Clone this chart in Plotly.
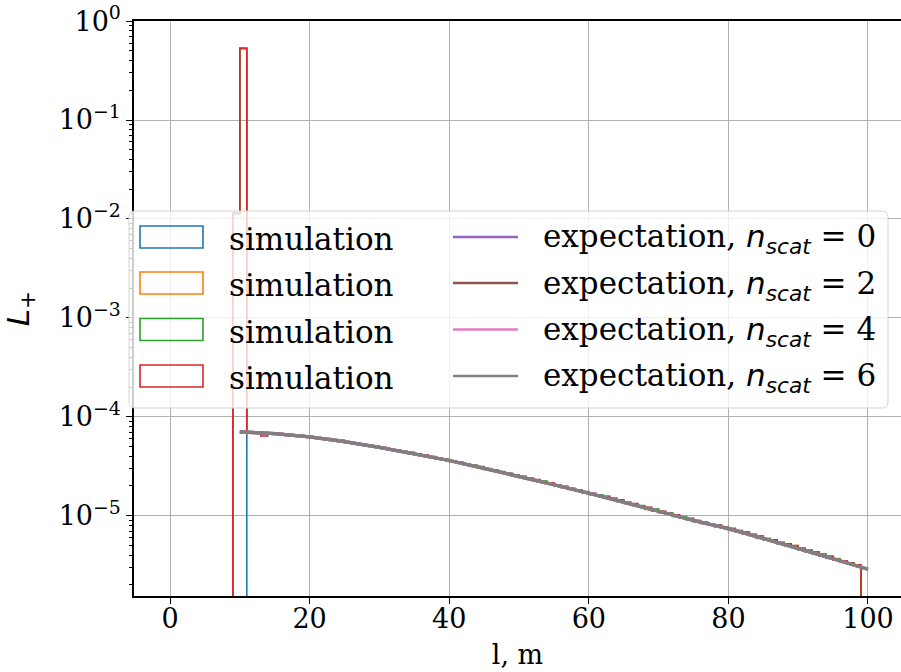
import numpy as np
import plotly.graph_objects as go

# ---------------- data (values in units of 1e-5 unless noted) ----------------
SCALE = 1e-5
BIN_W = 1.0
FIRST_BIN_BLUE = 11      # first non-empty bin edge (m)
FIRST_BIN_SPIKE = 9      # first non-empty bin edge for n_scat>0 (m)
SPIKE_BINS = [1.14e-2, 0.53]   # absolute values of bins [9,10] and [10,11]

sim_blue = [6.98, 7.02, 6.85, 6.86, 6.70, 6.69, 6.52, 6.50, 6.33, 6.27,
            6.08, 6.01, 5.82, 5.75, 5.52, 5.44, 5.24, 5.16, 4.96, 4.88,
            4.70, 4.61, 4.42, 4.35, 4.16, 4.09, 3.90, 3.83, 3.66, 3.58,
            3.42, 3.34, 3.19, 3.12, 2.94, 2.88, 2.74, 2.68, 2.54, 2.49,
            2.36, 2.31, 2.18, 2.14, 2.00, 1.97, 1.85, 1.82, 1.71, 1.68,
            1.58, 1.56, 1.46, 1.44, 1.33, 1.32, 1.22, 1.21, 1.12, 1.10,
            1.04, 1.01, 0.95, 0.93, 0.87, 0.86, 0.81, 0.80, 0.75, 0.74,
            0.69, 0.68, 0.63, 0.62, 0.57, 0.57, 0.52, 0.52, 0.48, 0.47,
            0.43, 0.43, 0.39, 0.39, 0.355, 0.35, 0.325, 0.32]

sim_orange = [6.80, 6.90, 6.93, 6.78, 6.76, 6.60, 6.58, 6.44, 6.40, 6.20,
              6.14, 5.94, 5.88, 5.68, 5.58, 5.37, 5.30, 5.10, 5.02, 4.82,
              4.75, 4.55, 4.48, 4.29, 4.22, 4.03, 3.96, 3.77, 3.71, 3.53,
              3.47, 3.29, 3.24, 3.07, 2.99, 2.83, 2.79, 2.63, 2.59, 2.44,
              2.41, 2.26, 2.23, 2.09, 2.05, 1.92, 1.89, 1.77, 1.75, 1.63,
              1.62, 1.51, 1.50, 1.39, 1.37, 1.27, 1.26, 1.16, 1.16, 1.07,
              1.06, 0.98, 0.97, 0.90, 0.89, 0.83, 0.83, 0.77, 0.77, 0.71,
              0.71, 0.65, 0.65, 0.59, 0.59, 0.55, 0.54, 0.50, 0.50, 0.45,
              0.45, 0.41, 0.41, 0.37, 0.37, 0.34, 0.335, 0.31]

sim_green = [7.05, 6.92, 6.94, 6.80, 6.78, 6.62, 6.60, 6.45, 6.41, 6.22,
             6.15, 5.95, 5.90, 5.70, 5.59, 5.39, 5.31, 5.11, 5.03, 4.83,
             4.76, 4.56, 4.49, 4.30, 4.23, 4.04, 3.97, 3.78, 3.72, 3.54,
             3.48, 3.30, 3.25, 3.08, 3.00, 2.84, 2.80, 2.64, 2.60, 2.45,
             2.42, 2.27, 2.24, 2.10, 2.06, 1.93, 1.90, 1.78, 1.76, 1.64,
             1.63, 1.52, 1.51, 1.40, 1.38, 1.28, 1.27, 1.17, 1.17, 1.08,
             1.07, 0.99, 0.98, 0.91, 0.90, 0.84, 0.83, 0.78, 0.77, 0.72,
             0.71, 0.66, 0.65, 0.60, 0.59, 0.555, 0.54, 0.505, 0.50, 0.455,
             0.45, 0.415, 0.41, 0.375, 0.365, 0.34, 0.335, 0.31]

sim_red = [6.96, 6.93, 6.40, 6.84, 6.72, 6.68, 6.55, 6.49, 6.36, 6.30,
           6.10, 6.03, 5.84, 5.78, 5.54, 5.46, 5.26, 5.19, 4.98, 4.90,
           4.71, 4.63, 4.44, 4.37, 4.18, 4.11, 3.92, 3.85, 3.67, 3.60,
           3.43, 3.36, 3.20, 3.14, 2.95, 2.89, 2.75, 2.69, 2.55, 2.50,
           2.37, 2.32, 2.19, 2.15, 2.01, 1.98, 1.86, 1.83, 1.72, 1.69,
           1.59, 1.57, 1.47, 1.45, 1.34, 1.33, 1.23, 1.22, 1.13, 1.11,
           1.05, 1.02, 0.955, 0.94, 0.875, 0.865, 0.815, 0.805, 0.755, 0.745,
           0.695, 0.685, 0.635, 0.625, 0.575, 0.57, 0.525, 0.52, 0.485, 0.47,
           0.435, 0.43, 0.395, 0.39, 0.36, 0.35, 0.33, 0.32]

exp_l = [10, 15, 20, 25, 30, 35, 40, 45, 50, 55, 60, 65, 70, 75, 80, 85, 90, 95, 100]
exp_val = [7.06, 6.76, 6.28, 5.62, 4.92, 4.25, 3.62, 3.01, 2.51, 2.06,
           1.69, 1.38, 1.11, 0.895, 0.741, 0.589, 0.468, 0.367, 0.288]

n_scat = [0, 2, 4, 6]
sim_colors = ["#1f77b4", "#ff7f0e", "#2ca02c", "#d62728"]
exp_colors = ["#9467bd", "#8c564b", "#e377c2", "#7f7f7f"]

x_ticks = [0, 20, 40, 60, 80, 100]
y_ticks = [1, 1e-1, 1e-2, 1e-3, 1e-4, 1e-5]
y_ticktext = ["10<sup>0</sup>", "10<sup>−1</sup>", "10<sup>−2</sup>",
              "10<sup>−3</sup>", "10<sup>−4</sup>", "10<sup>−5</sup>"]

sim_label = "simulation"
exp_labels = [f"expectation, <span style='font-family:DejaVu Sans'><i>n</i><sub><i>scat</i></sub></span> = {ns}"
              for ns in n_scat]

# ---------------- figure ----------------
FLOOR = 1e-12
SERIF = "DejaVu Serif"
FS = 27
LFS = 31

W, H = 901, 672
ML, MR, MT, MB = 134, 0, 21, 76
pw, ph = W - ML - MR, H - MT - MB


def px_x(px):          # window pixel -> paper x
    return (px - ML) / pw


def px_y(py):          # window pixel -> paper y
    return (H - MB - py) / ph


def step_xy(start_edge, values):
    n = len(values)
    edges = start_edge + BIN_W * np.arange(n + 1)
    x = np.concatenate([[edges[0]], edges[:-1], [edges[-1]]])
    y = np.concatenate([[FLOOR], np.asarray(values, float), [FLOOR]])
    return x, y


sims = [
    (FIRST_BIN_BLUE, list(np.array(sim_blue) * SCALE)),
    (FIRST_BIN_SPIKE, SPIKE_BINS + list(np.array(sim_orange) * SCALE)),
    (FIRST_BIN_SPIKE, SPIKE_BINS + list(np.array(sim_green) * SCALE)),
    (FIRST_BIN_SPIKE, SPIKE_BINS + list(np.array(sim_red) * SCALE)),
]

fig = go.Figure()

for i, (start, vals) in enumerate(sims):
    x, y = step_xy(start, vals)
    fig.add_trace(go.Scatter(x=x, y=y, mode="lines", line_shape="hv",
                             line=dict(color=sim_colors[i], width=1.6),
                             name=sim_label, showlegend=False, hoverinfo="skip"))

for i, ns in enumerate(n_scat):
    fig.add_trace(go.Scatter(x=exp_l, y=np.array(exp_val) * SCALE, mode="lines",
                             line=dict(color=exp_colors[i], width=3.2),
                             name=exp_labels[i], showlegend=False))

# ---- legend drawn by hand (matplotlib style, two columns) ----
shapes = []
annotations = []
bx0, bx1, by0, by1, r = 129, 888, 211, 408, 6
X0, X1, Y0, Y1 = px_x(bx0), px_x(bx1), px_y(by1), px_y(by0)
rx, ry = r / pw, r / ph
box_path = (f"M{X0+rx},{Y0} L{X1-rx},{Y0} Q{X1},{Y0} {X1},{Y0+ry} "
            f"L{X1},{Y1-ry} Q{X1},{Y1} {X1-rx},{Y1} L{X0+rx},{Y1} "
            f"Q{X0},{Y1} {X0},{Y1-ry} L{X0},{Y0+ry} Q{X0},{Y0} {X0+rx},{Y0} Z")
shapes.append(dict(type="path", path=box_path, xref="paper", yref="paper",
                   layer="above", fillcolor="rgba(255,255,255,0.8)",
                   line=dict(color="#d3d3d3", width=1)))

row_y = [237, 283, 329.5, 376]
for i in range(4):
    yc = row_y[i]
    shapes.append(dict(type="rect", xref="paper", yref="paper", layer="above",
                       x0=px_x(140), x1=px_x(203), y0=px_y(yc + 11), y1=px_y(yc - 11),
                       fillcolor="rgba(0,0,0,0)",
                       line=dict(color=sim_colors[i], width=1.6)))
    annotations.append(dict(text=sim_label, xref="paper", yref="paper",
                            x=px_x(227), y=px_y(yc + 2), xanchor="left", yanchor="middle",
                            showarrow=False, font=dict(family=SERIF, size=LFS, color="black")))
    shapes.append(dict(type="line", xref="paper", yref="paper", layer="above",
                       x0=px_x(453), x1=px_x(518), y0=px_y(yc), y1=px_y(yc),
                       line=dict(color=exp_colors[i], width=2.4)))
    annotations.append(dict(text=exp_labels[i], xref="paper", yref="paper",
                            x=px_x(541), y=px_y(yc + 2), xanchor="left", yanchor="middle",
                            showarrow=False, font=dict(family=SERIF, size=LFS, color="black")))

minor_vals = [k * 10.0 ** e for e in range(-6, 0) for k in range(2, 10)]

fig.update_layout(
    width=W, height=H,
    margin=dict(l=ML, r=MR, t=MT, b=MB, autoexpand=False),
    paper_bgcolor="white", plot_bgcolor="white",
    font=dict(family=SERIF, size=FS, color="black"),
    showlegend=False,
    xaxis=dict(range=[-5.16, 104.73], tickvals=x_ticks, ticks="outside",
               ticklen=6, tickwidth=1.3, tickcolor="black", automargin=False,
               ticklabelstandoff=-8,
               showline=True, linecolor="black", linewidth=1.5, mirror=True,
               showgrid=True, gridcolor="#b0b0b0", gridwidth=1.1, zeroline=False,
               title=dict(text="l, m", standoff=12, font=dict(family=SERIF, size=FS))),
    yaxis=dict(type="log", range=[-5.811, 0.001], tickmode="array",
               tickvals=y_ticks, ticktext=y_ticktext, ticks="outside",
               ticklen=6, tickwidth=1.3, tickcolor="black", automargin=False,
               showline=True, linecolor="black", linewidth=1.5, mirror=False,
               showgrid=True, gridcolor="#b0b0b0", gridwidth=1.1, zeroline=False,
               minor=dict(tickmode="array", tickvals=minor_vals, ticks="outside",
                          ticklen=3.5, tickwidth=1, tickcolor="black", showgrid=False),
               title=dict(text="<i>L</i><sub>+</sub>", standoff=24,
                          font=dict(family="DejaVu Sans", size=31))),
    shapes=shapes,
    annotations=annotations,
)

# remove the browser's default 8px body margin so the figure fills the window
fig.write_html("out.html", config={"displayModeBar": False},
               post_script="document.body.style.margin='0px';")
